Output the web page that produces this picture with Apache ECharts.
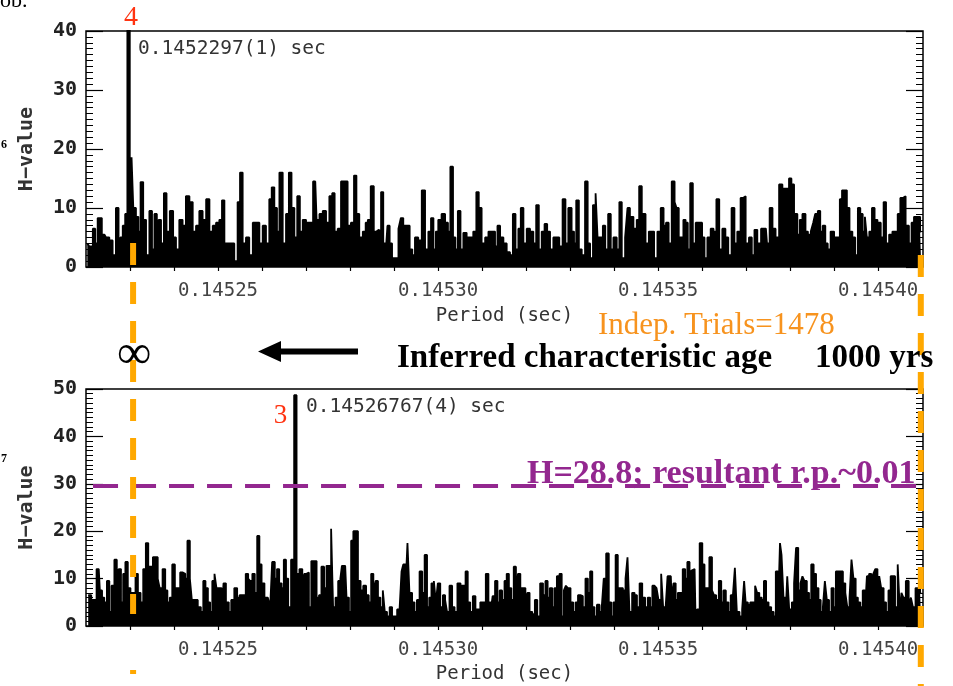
<!DOCTYPE html>
<html>
<head>
<meta charset="utf-8">
<script src="https://cdn.jsdelivr.net/npm/echarts@6/dist/echarts.min.js"></script>
<style>
html, body { margin: 0; padding: 0; background: #fff; }
#main { width: 953px; height: 686px; }
</style>
</head>
<body>
<div id="main"></div>
<script>
// period axis runs from P0 to P1 (sec); scan points are [offset from P0 in microseconds, H-value]
var P0 = 0.14522;
var P1 = 0.1454102;

var topScan = [
  [0.3,4],[1.2,3.5],[1.9,6.5],[2.3,4],[3.0,8.3],[4.2,5.5],[4.9,5],[5.7,4.5],[6.4,2],[7.2,10],
  [7.6,1],[8.0,5],[8.7,7],[9.1,9],[9.7,40.4],[10.2,11],[10.5,18.6],[11.0,10],[11.7,8.5],[12.1,6],
  [12.7,14.4],[13.3,8],[14.0,2],[14.8,9.5],[15.2,3],[15.9,9],[16.3,3],[16.7,8],[17.4,4],[18.0,12.5],
  [18.6,6],[19.5,9.5],[20.1,5],[20.8,3],[21.6,8],[22.3,7],[23.1,12],[23.9,11],[24.6,6],[25.4,7],
  [26.1,9.5],[26.9,8],[27.7,11.5],[28.4,6],[29.2,7],[29.9,7.5],[30.7,8],[31.1,11.3],[31.8,4],[32.6,4],
  [33.3,4],[34.1,1],[34.8,11],[35.2,16],[36.0,4],[36.7,5],[37.5,2],[38.3,7.5],[39.0,7.5],[39.8,4],
  [40.5,7],[41.3,4],[42.0,11.5],[42.4,13.5],[43.2,10],[43.6,6],[44.3,16],[45.1,4],[45.8,9],[46.4,16],
  [47.0,10],[47.7,5],[48.3,12],[48.9,6],[49.6,8],[50.4,7.5],[51.1,7.5],[52.1,14.5],[52.7,8],[53.4,9],
  [54.2,9.5],[54.9,7.5],[55.7,12],[56.2,12.5],[56.8,6],[57.6,6.5],[58.3,14.5],[59.1,14.5],[59.8,7],[60.6,7.5],
  [61.2,15.5],[61.7,9],[62.5,5],[63.3,6],
  [63.8,7.5],[64.3,8],[65.1,13.7],[65.7,6],[66.3,6.3],[66.8,6],[67.3,12.7],[67.8,4],[68.3,2],[68.7,7],
  [69.3,4],[69.8,1.5],[70.6,1.5],[71.4,6.5],[71.7,8.3],[72.5,7],[73.2,7],[73.9,3],[74.4,2],[75.1,5],
  [75.9,4.5],[76.7,13],[77.4,3],[78.2,6],[78.6,8.3],[79.3,3],[79.7,6],[80.4,8],[81.2,9],[82.0,7.5],
  [82.5,6],[83.1,17],[83.7,5],[84.2,3],[84.8,9.5],[85.4,3],[86.1,5.8],[86.9,5],[87.6,5],[88.4,6],
  [89.0,12.7],[89.5,10],[90.3,4],[91.1,5],[91.8,6],[92.6,6],[93.3,3.5],[93.7,7],[94.5,5],[95.2,4],
  [96.0,2.5],[96.7,2],[97.3,9],[97.9,3],[98.6,6.5],[99.0,10],[99.8,4],[100.5,6.5],[101.3,6],[102.0,4],
  [102.6,10.5],[103.2,3],[103.9,6],[104.5,7.3],[105.1,6],[105.8,3],[106.6,5],[107.2,5],[107.9,3.5],[108.7,11.5],
  [109.2,4],[110.0,10],[110.7,6],[111.1,4],[111.7,11.3],[112.3,3],[113.0,2],[113.8,14.5],[114.2,4],[114.9,1.5],
  [115.5,10.5],[116.1,12.5],[116.4,5],[117.2,5],[117.7,7],[118.3,3],[119.0,9],[119.5,3],[120.2,5],[121.0,3],
  [121.4,11],[122.1,1.5],[122.9,5],[123.2,10],[124.0,8.5],[124.8,6.5],[125.5,8],[125.9,13.7],[126.7,9],
  [127.6,4],[128.2,6],[128.7,6],[129.5,1.5],[130.2,6],[131.0,10],[131.5,7],[132.1,7.5],[132.7,4],[133.5,14.5],
  [134.0,11],[134.4,10],[135.0,5],[135.5,5],[136.0,8],[136.5,7.5],[137.0,3],[137.6,14.2],[138.2,4],[138.9,7.5],
  [139.7,7.5],[140.3,5],[140.8,1.5],[141.6,5],[142.3,6.5],[142.9,6],[143.6,11.5],[144.2,3],[145.0,6.5],[145.6,5],
  [146.3,2],[147.1,10],[147.6,4],[148.4,6],[149.1,11.7],[149.5,12],[150.3,4],[151.0,5],[151.6,2],[152.2,6.3],
  [152.9,4],[153.9,6.5],[154.5,6.5],[155.0,4],[155.7,10],[156.3,6.5],[157.1,5],[157.9,14],[158.6,13.3],[159.4,13.3],
  [160.1,15],[160.5,14],[161.3,9],[162.0,5.5],[162.4,8],[163.2,9],[163.8,6],[164.3,5.5],[165.1,6],[165.4,7.5],
  [166.0,9],[166.6,9.5],[167.1,6],[167.7,7],[168.3,4],[168.8,3],[169.6,6],[170.4,5],[171.1,5],[171.5,11.5],
  [172.1,13],[172.6,13],[173.2,10],[173.8,6],[174.5,5],[175.1,2],[175.7,10],[176.2,9],[176.8,6],[177.2,8.5],
  [177.7,5],[178.3,6],[178.9,10],[179.5,8],[180.2,7.5],[181.0,5],[181.5,11],[182.1,4],[182.9,5.5],[183.6,6],
  [184.1,6],[184.8,9],[185.3,11.7],[185.9,12],[186.6,7],[187.4,4],[187.8,7.5],[188.5,8.5],[189.3,8.5],[189.8,6]
];

var bottomScan = [
  [0.5,6.5],[1.9,5.5],[2.9,12],[3.4,7.5],[3.9,6],[4.4,5],[5.1,9.5],[5.5,3],[6.1,8.5],[6.8,14],
  [7.2,11],[7.7,12],[8.2,5],[8.7,11],[9.2,13.5],[9.8,8],[10.4,7],[11.0,7],[11.5,11],[12.1,7],
  [12.7,5],[13.3,12],[13.9,17.5],[14.4,12.5],[14.9,12.5],[15.5,14.5],[16.1,14.5],[16.5,10],[17.0,8],[17.8,12],
  [18.2,7.5],[18.8,5],[19.3,6],[19.9,13],[20.5,8],[21.1,8],[21.7,11.3],[22.3,11],[22.8,10],[23.3,18],
  [23.9,10],[24.2,5.5],[25.0,5.5],[25.8,4],[26.4,3],[26.9,9.5],[27.4,8],[28.0,5],[28.4,3],[29.0,9.5],
  [29.4,11],[29.9,8],[30.5,8],[31.1,2],[31.4,9],[32.2,5],[32.7,3],[33.3,5.5],[34.1,8],[34.6,6],
  [35.2,6.5],[36.0,6.5],[36.6,11],[37.1,10],[37.5,9.5],[38.1,11],[38.6,7],[39.2,19],[39.6,13],[40.2,9],
  [40.9,6],[41.7,6.3],[42.0,4],[42.6,13.5],[43.2,10],[43.6,12],[44.2,9],[44.7,8],[45.2,14],[45.7,10],
  [46.2,4],[47.0,14],[47.6,48.7],[48.1,11],[48.9,12],[49.4,8],[49.8,11],[50.4,11.3],[50.9,4],[51.5,13.7],
  [52.1,13.7],[52.7,6],[53.2,6.5],[53.8,12.5],[54.4,8],[54.9,12.7],[55.5,12.7],[55.9,20.5],[56.4,4],[57.0,6],
  [57.6,9.5],[58.0,10],[58.3,12.7],[58.9,12.7],[59.5,6],[60.0,3],[60.5,18],[61.0,20],[61.5,20],[62.1,9.5],
  [62.7,7.5],[63.3,8.5],
  [64.0,6.5],[64.5,5],[65.1,11],[65.5,9],[66.1,9.5],[66.6,6],[67.2,4],[67.7,7.5],[68.1,3],[68.7,2],
  [69.3,4],[69.8,2],[70.4,2],[71.0,3.5],[71.5,3.5],[71.9,11.5],[72.3,13],[72.9,8],[73.2,17.5],[73.8,7],
  [74.4,5],[74.9,3],[75.5,5.5],[76.1,11.5],[76.7,7],[77.2,15],[77.8,4],[78.2,6],[78.8,9],[79.3,9.5],
  [79.7,5],[80.2,9],[80.8,4],[81.4,6.5],[81.8,5.5],[82.3,3],[82.9,8.5],[83.5,4],[84.0,3],[84.8,9],
  [85.4,8.5],[86.0,8.5],[86.5,11.5],[87.0,5],[87.6,3],[88.2,6.3],[88.8,3.5],[89.3,3.5],[89.9,5],[90.5,5],
  [91.2,11],[91.7,5],[92.2,3],[92.6,6.3],[93.3,9.5],[93.7,5],[94.3,7.5],[94.8,5.5],[95.4,9.5],[95.8,11],
  [96.4,8],[96.9,5.5],[97.5,12.5],[97.9,5],[98.4,11],[99.0,8],[99.6,8],[100.1,4],[100.5,7],[101.1,3],
  [101.7,2.5],[102.3,5.5],[102.8,2],[103.6,9],[104.1,6.5],[104.7,9.5],[105.1,6],[105.7,8],[106.2,4],[106.7,8],
  [107.3,10.5],[107.9,11],[108.3,2],[108.9,7.5],[109.2,8.5],[109.8,8],[110.4,5],[111.0,3],[111.5,5],[112.1,6.5],
  [112.6,6.3],[113.2,4],[113.8,10],[114.3,7],[114.8,11.5],[115.3,4],[115.8,2],[116.4,4.5],[117.0,3],[117.4,4],
  [117.9,10],[118.5,15.3],[119.1,5],[119.6,2],[120.1,5],[120.6,15],[121.1,8],[121.7,8],[122.3,7.5],[122.9,10],
  [123.2,14.5],[123.8,3],[124.4,7],[124.9,6.5],[125.5,4],[126.1,9],[126.7,6],
  [127.4,4],[127.9,6],[128.5,4],[128.9,8.5],[129.5,8.5],[129.8,8],[130.4,5.5],[131.0,11],[131.3,4],[132.0,3],
  [132.3,10.5],[132.9,10.5],[133.2,6],[133.8,9],[134.2,5.5],[134.8,7],[135.3,7],[135.9,12],[136.4,10],[136.9,13.5],
  [137.4,11],[137.8,11.7],[138.3,12],[138.7,2.5],[139.1,3.5],[139.8,17.5],[140.3,13],[140.8,8],[141.3,8],[142.0,14.5],
  [142.5,7.5],[142.9,6.5],[143.5,5.5],[144.1,9.5],[144.6,5],[145.1,7.5],[145.7,5],[146.3,3],[146.7,6.5],[147.3,6.5],
  [147.6,12.3],[148.2,3],[148.8,2],[149.4,3.5],[149.7,9.5],[150.1,5],[150.7,4.5],[151.2,5],[151.8,5],[152.3,8.5],
  [152.7,7],[153.3,6],[153.8,5.5],[154.3,9.5],[154.8,5],[155.4,4],[156.0,3],[156.5,2],[157.0,11.5],[157.5,3],
  [157.9,17.5],[158.2,15],[158.8,6],[159.2,3],[159.5,10.5],[160.1,3.5],[160.7,5],[161.1,9],[161.6,16.5],[162.1,7.5],
  [162.6,9],[163.0,10.5],[163.5,9.5],[164.1,7],[164.5,5.5],[165.1,13],[165.6,11],[166.2,8],[166.7,5.5],[167.2,3],
  [167.7,4],[168.1,9.5],[168.6,5.5],[169.1,3],[169.7,8],[170.1,4],[170.7,11.5],[171.3,11.5],[171.7,11.5],[172.3,9],
  [172.8,7],[173.2,4],[173.8,6],[174.1,14],[174.7,10],[175.1,6],[175.7,5],[176.2,4],[176.8,7.5],[177.2,3],
  [177.7,10.5],[178.2,11],[178.7,9],[179.1,11],[179.6,12],[180.1,8],[180.4,10.5],[181.0,8],[181.5,5],[182.1,3],
  [182.6,7.5],[183.1,10.5],[183.6,10.5],[184.1,4],[184.8,13],[185.1,3],[185.5,7],[186.0,6],[186.6,9.5],[187.3,4],
  [187.6,6],[188.2,4],[188.8,8],[189.3,8],[189.8,7]
];

var periodLabels = [0.14525, 0.14530, 0.14535, 0.14540];
var periodTicks = [0.14523, 0.14524, 0.14525, 0.14526, 0.14527, 0.14528, 0.14529, 0.14530, 0.14531,
  0.14532, 0.14533, 0.14534, 0.14535, 0.14536, 0.14537, 0.14538, 0.14539, 0.14540];
var orangeMarks = [0.1452307, 0.1454097];
var hThreshold = 29.6;

var mono = 'DejaVu Sans Mono';
var serif = 'Liberation Serif';

function toPeriod(d) { return [P0 + d[0] * 1e-6, d[1]]; }

function xAxisFor(grid, pos, withLabels, gap) {
  return {
    type: 'value', gridIndex: grid, position: pos, min: P0, max: P1,
    axisLine: { show: false },
    splitLine: { show: false },
    axisTick: { show: true, inside: true, length: 4, customValues: periodTicks,
      lineStyle: { color: '#000', width: 1.2 } },
    axisLabel: { show: withLabels, customValues: periodLabels, margin: 15,
      formatter: function (v) { return v.toFixed(5); },
      color: '#444', fontFamily: mono, fontSize: 19 },
    name: withLabels ? 'Period (sec)' : '',
    nameLocation: 'middle', nameGap: gap,
    nameTextStyle: { color: '#333', fontFamily: mono, fontSize: 19 }
  };
}

function yAxisFor(grid, pos, max, withLabels) {
  return {
    type: 'value', gridIndex: grid, position: pos, min: 0, max: max, interval: 10,
    axisLine: { show: false },
    splitLine: { show: false },
    axisTick: { inside: true, length: 17, lineStyle: { color: '#000', width: 1.2 } },
    minorTick: { show: true, splitNumber: 10, length: 7, lineStyle: { color: '#000', width: 1 } },
    axisLabel: { show: withLabels, margin: 9, color: '#222', fontFamily: mono,
      fontWeight: 'bold', fontSize: 20 },
    name: withLabels ? 'H\u2212value' : '',
    nameLocation: 'middle', nameRotate: 90, nameGap: 49,
    nameTextStyle: { color: '#333', fontFamily: mono, fontWeight: 'bold', fontSize: 20 }
  };
}

var chart = echarts.init(document.getElementById('main'));

var option = {
  animation: false,
  backgroundColor: '#fff',
  grid: [
    { left: 86, top: 31, width: 837, height: 236, show: true, borderColor: '#000', borderWidth: 1.5 },
    { left: 86, top: 389, width: 837, height: 237, show: true, borderColor: '#000', borderWidth: 1.5 }
  ],
  xAxis: [
    xAxisFor(0, 'bottom', true, 40),
    xAxisFor(0, 'top', false, 0),
    xAxisFor(1, 'bottom', true, 39),
    xAxisFor(1, 'top', false, 0)
  ],
  yAxis: [
    yAxisFor(0, 'left', 40, true),
    yAxisFor(0, 'right', 40, false),
    yAxisFor(1, 'left', 50, true),
    yAxisFor(1, 'right', 50, false)
  ],
  series: [
    {
      type: 'line', xAxisIndex: 0, yAxisIndex: 0, step: 'middle', symbol: 'none', silent: true,
      data: topScan.map(toPeriod),
      lineStyle: { color: '#000', width: 1.8 },
      areaStyle: { color: '#000', opacity: 1 }
    },
    {
      type: 'line', xAxisIndex: 2, yAxisIndex: 2, step: 'middle', symbol: 'none', silent: true,
      data: bottomScan.map(toPeriod),
      lineStyle: { color: '#000', width: 1.8 },
      areaStyle: { color: '#000', opacity: 1 },
      markLine: {
        silent: true, symbol: 'none', label: { show: false },
        lineStyle: { color: '#93278F', width: 4, type: [25, 13] },
        data: [[{ coord: [P0 + 1.6e-6, hThreshold] }, { coord: [P0 + 189.1e-6, hThreshold] }]]
      }
    }
  ]
};
chart.setOption(option);

// orange period markers run across both panels
var xl = chart.convertToPixel({ xAxisIndex: 0 }, orangeMarks[0]);
var xr = chart.convertToPixel({ xAxisIndex: 0 }, orangeMarks[1]);
var orange = '#FFA800';

chart.setOption({
  graphic: [
    { type: 'line', z: 100, shape: { x1: xl, y1: 243, x2: xl, y2: 614 },
      style: { stroke: orange, lineWidth: 6, lineDash: [22, 17] } },
    { type: 'line', z: 100, shape: { x1: xl, y1: 670, x2: xl, y2: 674 },
      style: { stroke: orange, lineWidth: 6 } },
    { type: 'line', z: 100, shape: { x1: xr, y1: 255, x2: xr, y2: 686 },
      style: { stroke: orange, lineWidth: 6, lineDash: [22, 17] } },

    { type: 'text', z: 100, x: 0, y: 1,
      style: { text: 'ob.', fontFamily: serif, fontSize: 22, fill: '#000', align: 'left', verticalAlign: 'middle' } },
    { type: 'text', z: 100, x: 1, y: 145,
      style: { text: '6', fontFamily: serif, fontWeight: 'bold', fontSize: 12, fill: '#000', verticalAlign: 'middle' } },
    { type: 'text', z: 100, x: 1, y: 459,
      style: { text: '7', fontFamily: serif, fontWeight: 'bold', fontSize: 12, fill: '#000', verticalAlign: 'middle' } },

    { type: 'text', z: 100, x: 131, y: 18,
      style: { text: '4', fontFamily: serif, fontSize: 28, fill: '#FF3311', align: 'center', verticalAlign: 'middle' } },
    { type: 'text', z: 100, x: 138, y: 48.5,
      style: { text: '0.1452297(1) sec', fontFamily: mono, fontSize: 19.5, fill: '#333', verticalAlign: 'middle' } },

    { type: 'text', z: 100, x: 280.5, y: 416,
      style: { text: '3', fontFamily: serif, fontSize: 27, fill: '#FF3311', align: 'center', verticalAlign: 'middle' } },
    { type: 'text', z: 100, x: 306, y: 406.5,
      style: { text: '0.14526767(4) sec', fontFamily: mono, fontSize: 19.5, fill: '#333', verticalAlign: 'middle' } },

    { type: 'text', z: 100, x: 598, y: 326,
      style: { text: 'Indep. Trials=1478', fontFamily: serif, fontSize: 31, fill: '#F7931E', verticalAlign: 'middle' } },
    { type: 'text', z: 100, x: 134, y: 355,
      style: { text: '\u221E', fontFamily: serif, fontSize: 48, fill: '#000', align: 'center', verticalAlign: 'middle' } },
    { type: 'polygon', z: 100,
      shape: { points: [[258, 351.5], [281, 341], [281, 348.5], [358, 348.5], [358, 354.5], [281, 354.5], [281, 362]] },
      style: { fill: '#000' } },
    { type: 'text', z: 100, x: 397, y: 358,
      style: { text: 'Inferred characteristic age', fontFamily: serif, fontWeight: 'bold', fontSize: 33,
        fill: '#000', verticalAlign: 'middle' } },
    { type: 'text', z: 100, x: 815, y: 358,
      style: { text: '1000 yrs', fontFamily: serif, fontWeight: 'bold', fontSize: 33,
        fill: '#000', verticalAlign: 'middle' } },

    { type: 'text', z: 100, x: 527, y: 474.5,
      style: { text: 'H=28.8; resultant r.p.~0.01', fontFamily: serif, fontWeight: 'bold', fontSize: 34,
        fill: '#93278F', verticalAlign: 'middle' } }
  ]
});
</script>
</body>
</html>
